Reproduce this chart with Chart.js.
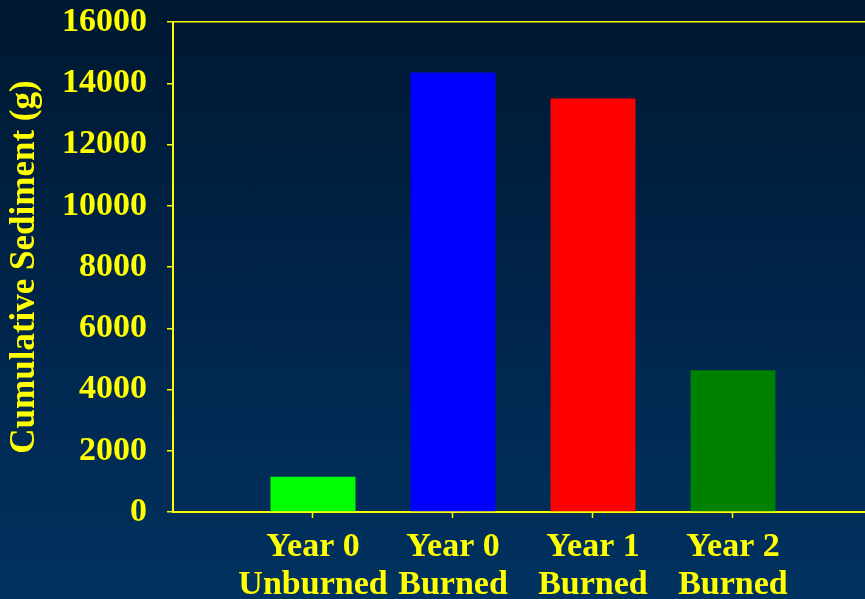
<!DOCTYPE html>
<html>
<head>
<meta charset="utf-8">
<script src="https://cdn.jsdelivr.net/npm/chart.js@4.4.1/dist/chart.umd.min.js"></script>
<style>
  html, body { margin: 0; padding: 0; overflow: hidden; }
  body {
    width: 865px; height: 599px;
    background: linear-gradient(to bottom, #001830 0%, #00274f 60%, #01325f 100%);
  }
  #wrap { position: relative; width: 865px; height: 599px; }
</style>
</head>
<body>
<div id="wrap"><canvas id="chart"></canvas></div>
<script>
// Treatment groups and cumulative sediment yield (g)
const categories = [
  ['Year 0', 'Unburned'],
  ['Year 0', 'Burned'],
  ['Year 1', 'Burned'],
  ['Year 2', 'Burned']
];
const sediment = [1150, 14350, 13500, 4630];
const barColors = ['#00ff00', '#0000ff', '#ff0000', '#008000'];
const yTicks = [0, 2000, 4000, 6000, 8000, 10000, 12000, 14000, 16000];

const YELLOW = '#ffff00';
const font = { family: '"Liberation Serif", "Times New Roman", serif', weight: 'bold', size: 34, lineHeight: 1.13 };

// groups sit at positions 1..4 on the horizontal axis
const points = sediment.map((v, i) => ({ x: i + 1, y: v }));
const positions = categories.map((_, i) => i + 1);

new Chart(document.getElementById('chart'), {
  type: 'bar',
  data: {
    datasets: [{
      data: points,
      backgroundColor: barColors,
      borderWidth: 0,
      barPercentage: 0.607,
      categoryPercentage: 1
    }]
  },
  options: {
    responsive: true,
    maintainAspectRatio: false,
    animation: false,
    layout: { padding: { top: 22, right: 0, bottom: 0, left: 0 } },
    plugins: { legend: { display: false }, tooltip: { enabled: false } },
    scales: {
      x: {
        type: 'linear',
        offset: false,
        min: 0,
        max: 4.943,
        afterBuildTicks: (scale) => { scale.ticks = positions.map(v => ({ value: v })); },
        afterFit: (scale) => { scale.height = 87; },
        ticks: {
          color: YELLOW,
          font: font,
          padding: 10,
          autoSkip: false,
          maxRotation: 0,
          callback: (v) => categories[v - 1]
        },
        grid: { offset: false, drawOnChartArea: false, tickLength: 6, tickColor: YELLOW, tickWidth: 1.5 },
        border: { color: YELLOW, width: 2 }
      },
      y: {
        min: 0,
        max: 16000,
        afterBuildTicks: (scale) => { scale.ticks = yTicks.map(v => ({ value: v })); },
        afterFit: (scale) => {
          scale.width = 173;
          scale.paddingTop = 0;
          scale.paddingBottom = 0;
        },
        ticks: { color: YELLOW, font: font, padding: 20, callback: (v) => String(v) },
        grid: {
          tickLength: 6,
          tickColor: YELLOW,
          tickWidth: 1.5,
          lineWidth: 1.5,
          color: (ctx) => (ctx.tick && ctx.tick.value === 16000 ? YELLOW : 'rgba(0,0,0,0)')
        },
        border: { color: YELLOW, width: 2 },
        title: {
          display: true,
          text: 'Cumulative Sediment (g)',
          color: YELLOW,
          font: { family: font.family, weight: 'bold', size: 35, lineHeight: 1.13 },
          padding: { top: 5, bottom: 0 }
        }
      }
    }
  }
});
</script>
</body>
</html>
